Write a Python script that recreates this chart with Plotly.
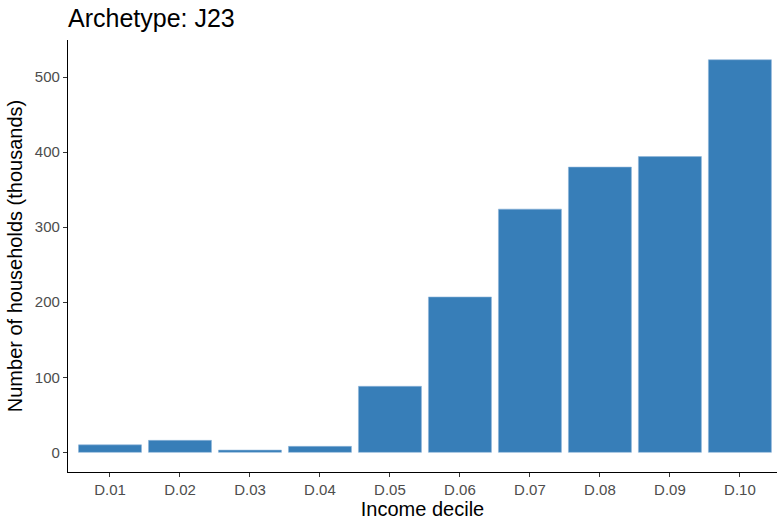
import plotly.graph_objs as go

# income deciles and household counts (thousands)
deciles = ['D.01', 'D.02', 'D.03', 'D.04', 'D.05', 'D.06', 'D.07', 'D.08', 'D.09', 'D.10']
households = [10, 16, 3, 8, 88, 207, 324, 380, 394, 523]

bar_color = '#377EB8'
font_family = 'Liberation Sans, Arial, sans-serif'

fig = go.Figure()
fig.add_trace(go.Bar(x=deciles, y=households, width=0.9,
                     marker=dict(color=bar_color, line=dict(color='#8FB6DA', width=0.6)),
                     showlegend=False))

fig.update_layout(
    width=777, height=523,
    margin=dict(l=68, r=0, t=40, b=51),
    plot_bgcolor='white', paper_bgcolor='white',
    font=dict(family=font_family, color='black'),
    title=dict(text='Archetype: J23', x=0, xref='paper', xanchor='left',
               y=1 - 18.5 / 523, yanchor='middle',
               font=dict(size=25, color='black', family=font_family)),
    bargap=0.1,
)
fig.update_xaxes(
    title=dict(text='Income decile', font=dict(size=20, color='black'), standoff=2),
    range=[-0.6, 9.53],
    showline=True, linecolor='black', linewidth=1.3,
    ticks='outside', ticklen=4, tickcolor='#333333', tickwidth=1.1,
    tickfont=dict(size=15, color='#4D4D4D'),
    showgrid=False, zeroline=False,
)
fig.update_yaxes(
    title=dict(text='Number of households (thousands)', font=dict(size=20, color='black'), standoff=6),
    range=[-26.15, 549.3],
    tickvals=[0, 100, 200, 300, 400, 500],
    showline=True, linecolor='black', linewidth=1.3,
    ticks='outside', ticklen=4, tickcolor='#333333', tickwidth=1.1,
    tickfont=dict(size=15, color='#4D4D4D'),
    showgrid=False, zeroline=False,
)

# drop the page's default body margin so the figure sits at the window origin
fig.write_html('out.html', config={'displayModeBar': False},
               post_script="document.body.style.margin='0';")
